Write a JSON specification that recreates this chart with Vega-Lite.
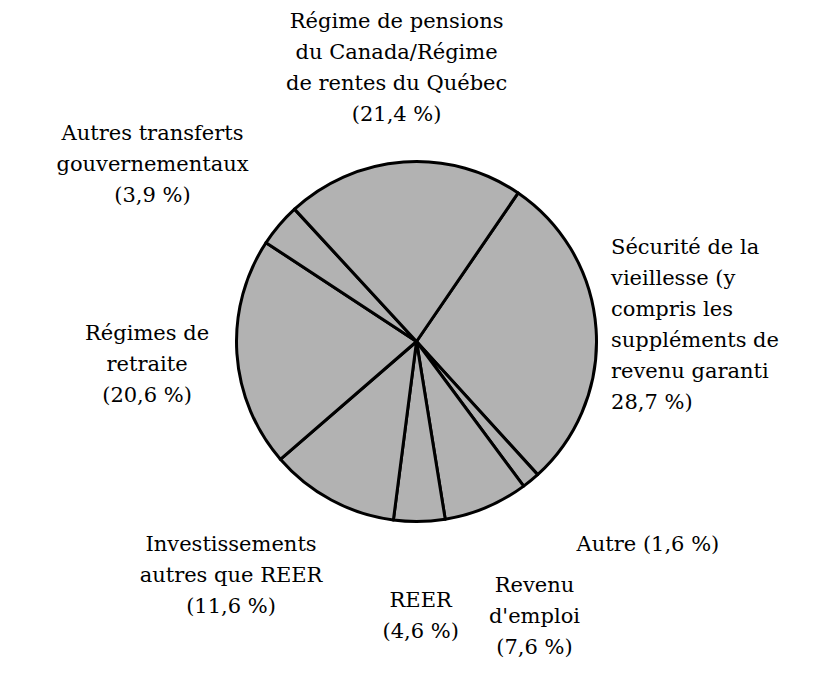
{
  "$schema": "https://vega.github.io/schema/vega-lite/v6.json",
  "width": 833,
  "height": 683,
  "autosize": {"type": "fit", "contains": "padding"},
  "background": "white",
  "view": {"stroke": null},
  "data": {
    "values": [
      {"ordre": 1, "source": "Sécurité de la vieillesse", "label": "Sécurité de la\nvieillesse (y\ncompris les\nsuppléments de\nrevenu garanti\n28,7 %)", "pct": 28.7},
      {"ordre": 2, "source": "Autre", "label": "Autre (1,6 %)", "pct": 1.6},
      {"ordre": 3, "source": "Revenu d'emploi", "label": "Revenu\nd'emploi\n(7,6 %)", "pct": 7.6},
      {"ordre": 4, "source": "REER", "label": "REER\n(4,6 %)", "pct": 4.6},
      {"ordre": 5, "source": "Investissements autres que REER", "label": "Investissements\nautres que REER\n(11,6 %)", "pct": 11.6},
      {"ordre": 6, "source": "Régimes de retraite", "label": "Régimes de\nretraite\n(20,6 %)", "pct": 20.6},
      {"ordre": 7, "source": "Autres transferts gouvernementaux", "label": "Autres transferts\ngouvernementaux\n(3,9 %)", "pct": 3.9},
      {"ordre": 8, "source": "Régime de pensions du Canada/Régime de rentes du Québec", "label": "Régime de pensions\ndu Canada/Régime\nde rentes du Québec\n(21,4 %)", "pct": 21.4}
    ]
  },
  "encoding": {
    "theta": {"field": "pct", "type": "quantitative", "stack": true, "scale": {"range": [0.6, 6.8832]}},
    "order": {"field": "ordre", "type": "quantitative", "sort": "ascending"}
  },
  "layer": [
    {
      "mark": {"type": "arc", "outerRadius": 180, "fill": "#b2b2b2", "stroke": "black", "strokeWidth": 3, "strokeJoin": "round"}
    },
    {
      "mark": {"type": "text", "radius": 195, "dy": -80, "font": "DejaVu Serif", "fontSize": 21, "lineHeight": 31, "align": "left", "baseline": "middle", "color": "black"},
      "encoding": {"text": {"condition": {"test": "datum.ordre == 1", "field": "label", "type": "nominal"}, "value": ""}}
    },
    {
      "mark": {"type": "text", "radius": 270, "dx": 60, "dy": -5, "font": "DejaVu Serif", "fontSize": 21, "lineHeight": 31, "align": "center", "baseline": "middle", "color": "black"},
      "encoding": {"text": {"condition": {"test": "datum.ordre == 2", "field": "label", "type": "nominal"}, "value": ""}}
    },
    {
      "mark": {"type": "text", "radius": 265, "dx": 15, "dy": 0, "font": "DejaVu Serif", "fontSize": 21, "lineHeight": 31, "align": "center", "baseline": "middle", "color": "black"},
      "encoding": {"text": {"condition": {"test": "datum.ordre == 3", "field": "label", "type": "nominal"}, "value": ""}}
    },
    {
      "mark": {"type": "text", "radius": 265, "dy": -5, "font": "DejaVu Serif", "fontSize": 21, "lineHeight": 31, "align": "center", "baseline": "middle", "color": "black"},
      "encoding": {"text": {"condition": {"test": "datum.ordre == 4", "field": "label", "type": "nominal"}, "value": ""}}
    },
    {
      "mark": {"type": "text", "radius": 265, "dx": -60, "dy": -30, "font": "DejaVu Serif", "fontSize": 21, "lineHeight": 31, "align": "center", "baseline": "middle", "color": "black"},
      "encoding": {"text": {"condition": {"test": "datum.ordre == 5", "field": "label", "type": "nominal"}, "value": ""}}
    },
    {
      "mark": {"type": "text", "radius": 270, "dy": -25, "font": "DejaVu Serif", "fontSize": 21, "lineHeight": 31, "align": "center", "baseline": "middle", "color": "black"},
      "encoding": {"text": {"condition": {"test": "datum.ordre == 6", "field": "label", "type": "nominal"}, "value": ""}}
    },
    {
      "mark": {"type": "text", "radius": 320, "dx": -20, "font": "DejaVu Serif", "fontSize": 21, "lineHeight": 31, "align": "center", "baseline": "middle", "color": "black"},
      "encoding": {"text": {"condition": {"test": "datum.ordre == 7", "field": "label", "type": "nominal"}, "value": ""}}
    },
    {
      "mark": {"type": "text", "radius": 275, "dy": -45, "font": "DejaVu Serif", "fontSize": 21, "lineHeight": 31, "align": "center", "baseline": "middle", "color": "black"},
      "encoding": {"text": {"condition": {"test": "datum.ordre == 8", "field": "label", "type": "nominal"}, "value": ""}}
    }
  ],
  "config": {"text": {"lineBreak": "\n"}}
}
